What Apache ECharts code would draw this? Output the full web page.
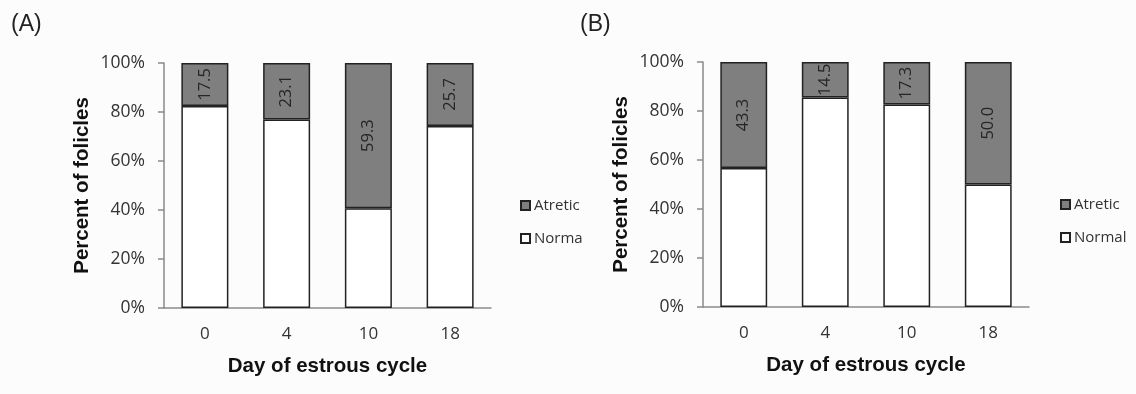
<!DOCTYPE html>
<html>
<head>
<meta charset="utf-8">
<style>
html,body{margin:0;padding:0;background:#fcfcfc;}
#chart{width:1136px;height:394px;}
</style>
<script src="https://cdn.jsdelivr.net/npm/echarts@6/dist/echarts.min.js"></script>
</head>
<body>
<div id="chart"></div>
<script>
var categories = ['0', '4', '10', '18'];
var yTicks = ['0%', '20%', '40%', '60%', '80%', '100%'];
var atreticA = [17.5, 23.1, 59.3, 25.7];
var normalA = [82.5, 76.9, 40.7, 74.3];
var atreticB = [43.3, 14.5, 17.3, 50.0];
var normalB = [56.7, 85.5, 82.7, 50.0];
var nameAtretic = 'Atretic';
var nameNormalA = 'Norma';
var nameNormalB = 'Normal';

var FONT = '"Open Sans", sans-serif';
var TITLEFONT = '"Liberation Sans", Arial, sans-serif';
var GRAY = '#7f7f7f';
var EDGE = '#222222';
var AXIS = '#8a8a8a';

function xAxisOf(i) {
  return {
    type: 'category', gridIndex: i, data: categories,
    name: 'Day of estrous cycle', nameLocation: 'middle', nameGap: 48,
    nameTextStyle: {fontFamily: TITLEFONT, fontWeight: 'bold', fontSize: 20.5, color: '#111'},
    axisLine: {lineStyle: {color: AXIS, width: 1.5}},
    axisTick: {show: false},
    axisLabel: {margin: 18, fontFamily: FONT, fontSize: 17, color: '#333'}
  };
}
function yAxisOf(i) {
  return {
    type: 'value', gridIndex: i, min: 0, max: 100, interval: 20,
    name: 'Percent of folicles', nameLocation: 'middle', nameGap: 71,
    nameTextStyle: {fontFamily: TITLEFONT, fontWeight: 'bold', fontSize: 20.5, color: '#111'},
    axisLine: {show: true, lineStyle: {color: AXIS, width: 1.5}},
    axisTick: {show: true, length: 6, lineStyle: {color: AXIS, width: 1.5}},
    splitLine: {show: false},
    axisLabel: {margin: 19, fontFamily: FONT, fontSize: 17.5, color: '#333',
      formatter: function (v) { return yTicks[Math.round(v / 20)]; }}
  };
}
function seriesOf(name, data, i, color, withLabel) {
  return {
    type: 'bar', name: name, stack: 's' + i, data: data,
    xAxisIndex: i, yAxisIndex: i, barWidth: '57.5%',
    itemStyle: {color: color, borderColor: EDGE, borderWidth: 1.5},
    label: withLabel ? {
      show: true, position: 'inside', rotate: 90,
      fontFamily: FONT, fontSize: 16.5, color: '#262626',
      formatter: function (p) { return Number(p.value).toFixed(1); }
    } : {show: false}
  };
}

var chart = echarts.init(document.getElementById('chart'));
chart.setOption({
  backgroundColor: '#fcfcfc',
  animation: false,
  title: [
    {text: '(A)', left: 6, top: 8, textStyle: {fontFamily: TITLEFONT, fontWeight: 'normal', fontSize: 23, color: '#222'}},
    {text: '(B)', left: 575, top: 8, textStyle: {fontFamily: TITLEFONT, fontWeight: 'normal', fontSize: 23, color: '#222'}}
  ],
  grid: [
    {left: 164, top: 63, width: 327, height: 245},
    {left: 703, top: 62, width: 326, height: 245}
  ],
  xAxis: [xAxisOf(0), xAxisOf(1)],
  yAxis: [yAxisOf(0), yAxisOf(1)],
  legend: [
    {data: [nameAtretic, nameNormalA], orient: 'vertical', left: 520, top: 198, padding: 0,
     itemWidth: 9, itemHeight: 9, itemGap: 18, icon: 'rect',
     textStyle: {fontFamily: FONT, fontSize: 15, color: '#333', padding: [0, 0, 0, -1]}},
    {data: [nameAtretic, nameNormalB], orient: 'vertical', left: 1060, top: 197, padding: 0,
     itemWidth: 9, itemHeight: 9, itemGap: 18, icon: 'rect',
     textStyle: {fontFamily: FONT, fontSize: 15, color: '#333', padding: [0, 0, 0, -1]}}
  ],
  series: [
    seriesOf(nameNormalA, normalA, 0, '#ffffff', false),
    seriesOf(nameAtretic, atreticA, 0, GRAY, true),
    seriesOf(nameNormalB, normalB, 1, '#ffffff', false),
    seriesOf(nameAtretic, atreticB, 1, GRAY, true)
  ]
});
</script>
</body>
</html>
